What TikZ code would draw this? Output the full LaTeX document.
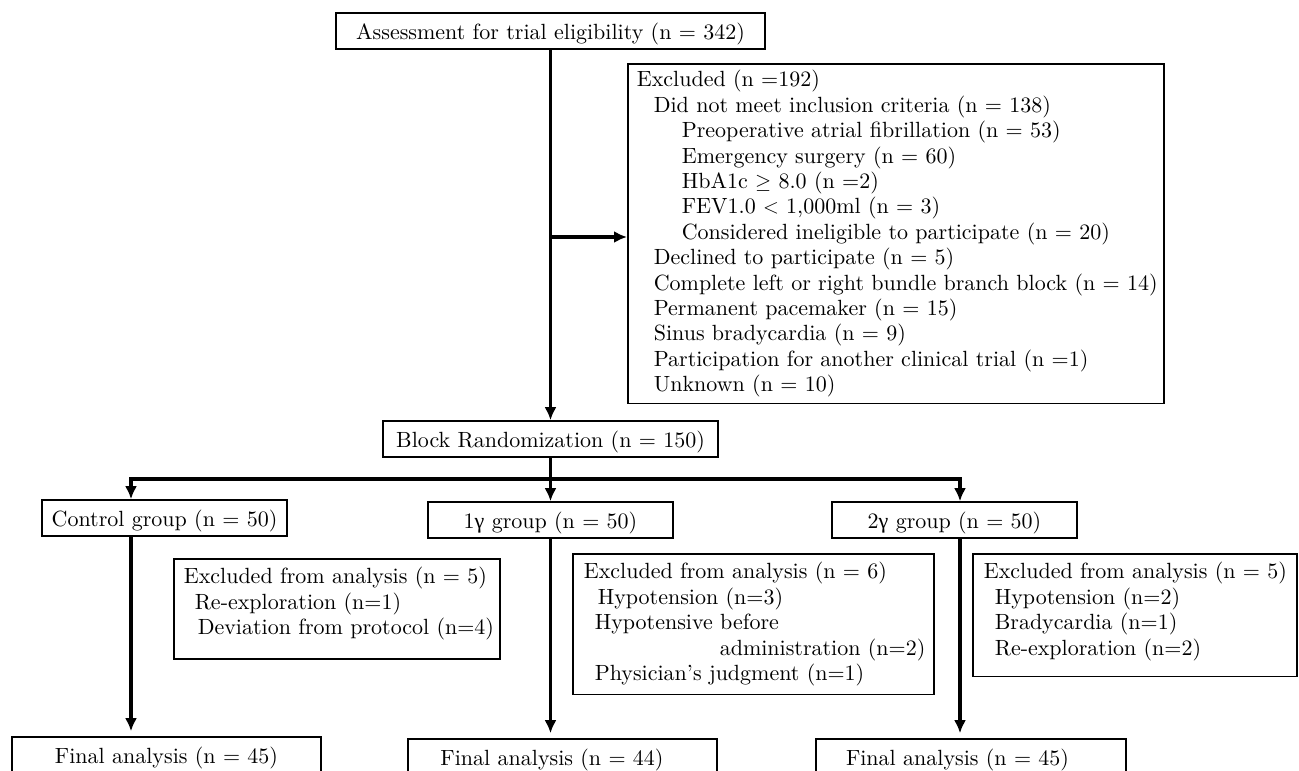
\documentclass[tikz,border=0pt]{standalone}
\usepackage{fontspec}
\setmainfont{lmroman10-regular.otf}
\newfontfamily\gammafont{Liberation Serif}
\usetikzlibrary{arrows.meta}
\begin{document}
\begin{tikzpicture}[x=1pt,y=-1pt,font=\fontsize{22}{25.4}\selectfont,
  box/.style={draw,line width=1.6pt,minimum height=36pt,inner sep=0pt,text height=19.5pt,text depth=2.5pt},
  listbox/.style={draw,line width=1.6pt,anchor=north west,align=left,inner xsep=4pt,inner ysep=8.5pt},
  conn/.style={line width=3.2pt},
  arr/.style={conn,-{Latex[length=13pt,width=12pt]}}]
  \useasboundingbox (0,0) rectangle (1299,771);

  %% screening and exclusions
  \node[box,minimum width=429pt] (assess) at (550.5,31) {Assessment for trial eligibility (n = 342)};
  \node[listbox,inner xsep=2pt,inner ysep=6.5pt,text width=532pt] (excl) at (627,63) {%
    \hspace*{7pt}Excluded (n =192)\\
    \hspace*{24pt}Did not meet inclusion criteria (n = 138)\\
    \hspace*{52pt}Preoperative atrial fibrillation (n = 53)\\
    \hspace*{52pt}Emergency surgery (n = 60)\\
    \hspace*{52pt}HbA1c $\geq$ 8.0 (n =2)\\
    \hspace*{52pt}FEV1.0 $<$ 1,000ml (n = 3)\\
    \hspace*{52pt}Considered ineligible to participate (n = 20)\\
    \hspace*{24pt}Declined to participate (n = 5)\\
    \hspace*{24pt}Complete left or right bundle branch block (n = 14)\\
    \hspace*{24pt}Permanent pacemaker (n = 15)\\
    \hspace*{24pt}Sinus bradycardia (n = 9)\\
    \hspace*{24pt}Participation for another clinical trial (n =1)\\
    \hspace*{24pt}Unknown (n = 10)};
  \node[box,minimum width=335pt] (rand) at (550.5,439) {Block Randomization (n = 150)};

  %% the three arms
  \node[box,minimum width=245pt] (ctrl) at (164.5,518) {Control group (n = 50)};
  \node[box,minimum width=245pt] (grpA) at (550.5,520) {1{\gammafont γ} group (n = 50)};
  \node[box,minimum width=245pt] (grpB) at (954.5,520) {2{\gammafont γ} group (n = 50)};

  %% each arm loses a few before analysis
  \node[listbox,text width=318pt] (exclctrl) at (173,558) {%
    \hspace*{6pt}Excluded from analysis (n = 5)\\
    \hspace*{17pt}Re-exploration (n=1)\\
    \hspace*{20pt}Deviation from protocol (n=4)\rule[-16pt]{0pt}{16pt}};
  \node[listbox,text width=353pt] (exclA) at (572,553) {%
    \hspace*{7pt}Excluded from analysis (n = 6)\\
    \hspace*{21pt}Hypotension (n=3)\\
    \hspace*{18pt}Hypotensive before\\
    \hspace*{143pt}administration~(n=2)\\
    \hspace*{18pt}Physician’s judgment (n=1)};
  \node[listbox,text width=316pt] (exclB) at (972,553) {%
    \hspace*{7pt}Excluded from analysis (n = 5)\\
    \hspace*{18pt}Hypotension (n=2)\\
    \hspace*{18pt}Bradycardia (n=1)\\
    \hspace*{18pt}Re-exploration (n=2)\rule[-13pt]{0pt}{13pt}};

  \node[box,minimum width=309pt] (finctrl) at (166.5,755) {Final analysis (n = 45)};
  \node[box,minimum width=309pt] (finA) at (562.5,757) {Final analysis (n = 44)\hspace*{21pt}};
  \node[box,minimum width=310pt] (finB) at (971,757) {Final analysis (n = 45)\hspace*{27pt}};

  %% connectors
  \coordinate (split) at (551,237);
  \coordinate (barL) at (131,479);
  \coordinate (barR) at (960,479);
  \draw[arr] (assess.south) -- (rand.north);
  \draw[arr] (split) -- (split -| excl.west);
  \draw[arr] (barR) -- (barL) -- (barL |- ctrl.north);
  \draw[arr] (barL) -- (barR) -- (barR |- grpB.north);
  \draw[arr] (rand.south) -- (grpA.north);
  \draw[arr,shorten >=5pt] (ctrl.south -| barL) -- (barL |- finctrl.north);
  \draw[arr,shorten >=5pt] (grpA.south) -- (grpA.south |- finA.north);
  \draw[arr,shorten >=5pt] (grpB.south -| barR) -- (barR |- finB.north);
\end{tikzpicture}
\end{document}
